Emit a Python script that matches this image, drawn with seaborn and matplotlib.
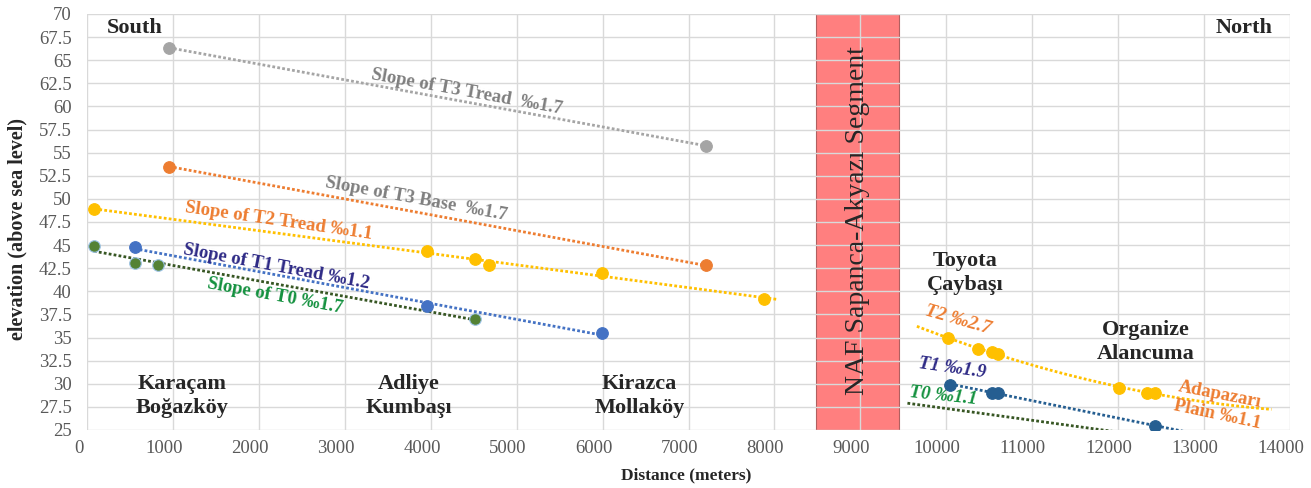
import numpy as np
import pandas as pd
import matplotlib
matplotlib.use("Agg")
import matplotlib.pyplot as plt
import matplotlib.transforms as mtransforms
import seaborn as sns

# ---------------- data ----------------
t3_tread_x = [950, 7200]
t3_tread_y = [66.35, 55.75]
t3_base_x = [950, 7200]
t3_base_y = [53.5, 42.8]
t2_x = [80, 3950, 4510, 4680, 5990, 7880]
t2_y = [48.9, 44.4, 43.45, 42.8, 42.0, 39.2]
t1_x = [550, 3950, 5990]
t1_y = [44.75, 38.4, 35.5]
t0_x = [75, 550, 820, 4510]
t0_y = [44.9, 43.1, 42.9, 37.0]
t2n_x = [10020, 10370, 10540, 10610, 12010, 12340, 12430]
t2n_y = [34.9, 33.8, 33.45, 33.2, 29.5, 29.05, 29.05]
t1n_x = [10050, 10540, 10610, 12430]
t1n_y = [29.85, 29.05, 29.05, 25.45]
t0n_line_x = [9550, 12060]
t0n_line_y = [27.9, 24.7]

fault_zone = [8480, 9450]
x_ticks = list(range(0, 14001, 1000))
y_ticks = [25, 27.5, 30, 32.5, 35, 37.5, 40, 42.5, 45, 47.5, 50, 52.5, 55, 57.5, 60, 62.5, 65, 67.5, 70]

# ---------------- style ----------------
sns.set_theme(style="whitegrid")
plt.rcParams['font.family'] = ['Liberation Serif', 'DejaVu Serif']

GREY = '#A5A5A5'
ORANGE = '#ED7D31'
YELLOW = '#FFC000'
BLUE = '#4472C4'
DBLUE = '#255E91'
GREEN = '#548235'
DGREEN = '#375623'

fig = plt.figure(figsize=(13.11, 4.88), dpi=100)
ax = fig.add_axes([87.5 / 1311, 1 - 430 / 488, (1289.5 - 87.5) / 1311, (430 - 14) / 488])

DOT = (0, (1, 0.8))


def trend(xs, ys, x0, x1, color, deg=1):
    c = np.polyfit(xs, ys, deg)
    xx = np.linspace(x0, x1, 60)
    df = pd.DataFrame({'x': xx, 'y': np.polyval(c, xx)})
    sns.lineplot(data=df, x='x', y='y', ax=ax, color=color, lw=2.0,
                 linestyle=DOT, zorder=3, sort=False, estimator=None)


def pts(xs, ys, color, edge=None):
    df = pd.DataFrame({'x': xs, 'y': ys})
    sns.scatterplot(data=df, x='x', y='y', ax=ax, color=color, s=70,
                    edgecolor=edge if edge else color, linewidth=0.8, zorder=4)


# fault band
ax.axvspan(fault_zone[0], fault_zone[1], color='#FF0000', alpha=0.5, lw=0, zorder=0.4)
ax.axvspan(fault_zone[0], fault_zone[1], fill=False, edgecolor='#B06060', lw=0.8, zorder=0.45)

trend(t3_tread_x, t3_tread_y, 950, 7200, GREY)
trend(t3_base_x, t3_base_y, 950, 7200, ORANGE)
trend(t2_x, t2_y, 80, 8045, YELLOW)
trend(t1_x, t1_y, 550, 6000, BLUE)
trend(t0_x, t0_y, 75, 4510, DGREEN)
trend(t2n_x, t2n_y, 9660, 13790, YELLOW, deg=2)
trend(t1n_x, t1n_y, 10050, 12760, DBLUE)
sns.lineplot(x=t0n_line_x, y=t0n_line_y, ax=ax, color=DGREEN, lw=2.0, linestyle=DOT, zorder=3)

pts(t3_tread_x, t3_tread_y, GREY)
pts(t3_base_x, t3_base_y, ORANGE)
pts(t2_x, t2_y, YELLOW)
pts(t1_x, t1_y, BLUE)
pts(t0_x, t0_y, GREEN, edge='#9DC3E6')
pts(t2n_x, t2n_y, YELLOW)
pts(t1n_x, t1n_y, DBLUE)

ax.set_xlim(0, 14000)
ax.set_ylim(25, 70)
ax.set_xticks(x_ticks)
ax.set_yticks(y_ticks)
ax.set_yticklabels([('%g' % v) for v in y_ticks])
ax.grid(True, color='#D9D9D9', lw=1.0)
ax.set_axisbelow(True)
for s in ax.spines.values():
    s.set_visible(False)
ax.tick_params(axis='both', length=0, labelsize=13.5, colors='#595959')
ax.tick_params(axis='y', pad=11.5)
ax.tick_params(axis='x', pad=7)
shift = mtransforms.ScaledTranslation(-9 / 100, 0, fig.dpi_scale_trans)
for lab in ax.get_xticklabels():
    lab.set_transform(lab.get_transform() + shift)

ax.set_xlabel('Distance (meters)', fontsize=12.5, fontweight='bold', color='#262626')
ax.set_ylabel('elevation (above sea level)', fontsize=14.5, fontweight='bold', color='#262626')
ax.xaxis.set_label_coords((686 - 87.5) / 1202, (430 - 467) / 416)
ax.yaxis.set_label_coords((27 - 87.5) / 1202, 0.5 + (222 - 229) / 416)

# location labels
loc_kw = dict(fontsize=16, fontweight='bold', color='#262626', ha='center', va='center', linespacing=1.25)
ax.text(547, 68.5, 'South', **loc_kw)
ax.text(13475, 68.5, 'North', **loc_kw)
ax.text(1100, 28.65, 'Karaçam\nBoğazköy', **loc_kw)
ax.text(3743, 28.65, 'Adliye\nKumbaşı', **loc_kw)
ax.text(6432, 28.65, 'Kirazca\nMollaköy', **loc_kw)
ax.text(10227, 41.97, 'Toyota\nÇaybaşı', **loc_kw)
ax.text(12323, 34.5, 'Organize\nAlancuma', **loc_kw)

ax.text(8965, 47.7, 'NAF Sapanca-Akyazı Segment', rotation=90, fontsize=20,
        color='#262626', ha='center', va='center')

# slope labels
sl = dict(fontsize=13.5, fontweight='bold', ha='center', va='center', rotation_mode='anchor')
ax.text(4418, 61.56, 'Slope of T3 Tread  ‰1.7', color='#7F7F7F', rotation=-10.3, **sl)
ax.text(3824, 49.98, 'Slope of T3 Base  ‰1.7', color='#7F7F7F', rotation=-10.3, **sl)
ax.text(2221, 47.6, 'Slope of T2 Tread ‰1.1', color=ORANGE, rotation=-8.2, **sl)
ax.text(2206, 42.6, 'Slope of T1 Tread ‰1.2', color='#2E2A86', rotation=-10.5, **sl)
ax.text(2183, 39.5, 'Slope of T0 ‰1.7', color='#14913F', rotation=-10.4, **sl)

it = dict(fontsize=13.5, fontweight='bold', style='italic', ha='center', va='center', rotation_mode='anchor')
ax.text(10134, 36.9, 'T2 ‰2.7', color=ORANGE, rotation=-16, **it)
ax.text(10076, 31.7, 'T1 ‰1.9', color='#2E2A86', rotation=-8, **it)
ax.text(9971, 28.66, 'T0 ‰1.1', color='#14913F', rotation=-6, **it)
ax.text(13183, 28.77, 'Adapazarı', color=ORANGE, rotation=-11, **sl)
ax.text(13160, 26.6, 'Plain ‰1.1', color=ORANGE, rotation=-12, **sl)

fig.savefig('out.png', dpi=100)
